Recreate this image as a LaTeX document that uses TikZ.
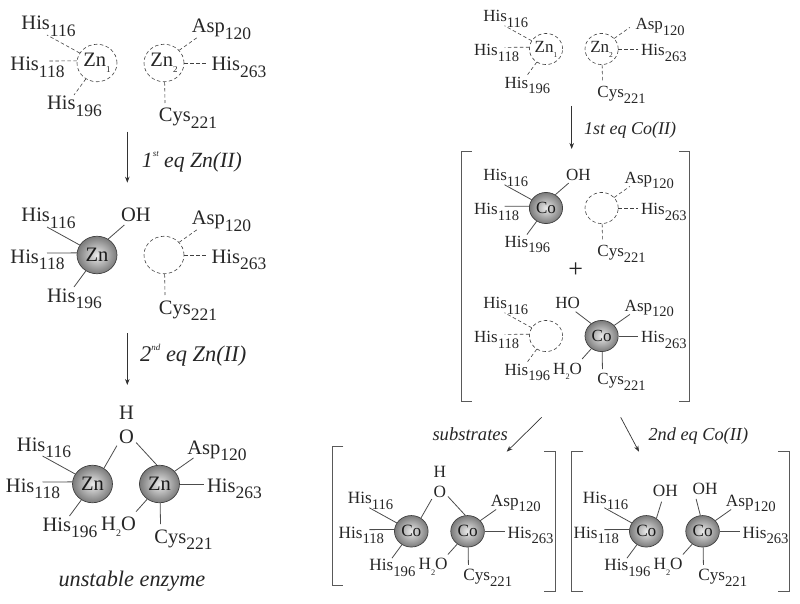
\documentclass[tikz,border=0pt]{standalone}
\usepackage{fontspec}
\setmainfont{Liberation Serif}
\usetikzlibrary{shapes.geometric,arrows.meta}
\newcommand{\res}[2]{#1\raisebox{-.33em}{\fontsize{17.5}{17.5}\selectfont #2}}
\newcommand{\water}{H\raisebox{-.3em}{\fontsize{10}{10}\selectfont 2}O}
\newcommand{\zn}[1]{Zn\raisebox{-.3em}{\fontsize{9}{9}\selectfont #1}}
\tikzset{
  lig/.style={
    anchor = base,
    inner sep = 0pt,
    text = black!85,
    font = \fontsize{20.5}{20.5}\selectfont
  },
  atom/.style={
    inner sep = 2pt,
    text = black!85,
    font = \fontsize{20.5}{20.5}\selectfont
  },
  metal/.style={
    shape = ellipse,
    minimum width = 40pt,
    minimum height = 37.5pt,
    inner sep = 0pt,
    draw = black!75,
    line width = .7pt,
    inner color = black!8,
    outer color = black!52,
    text = black!90,
    font = \fontsize{20.5}{20.5}\selectfont
  },
  hole/.style={
    shape = ellipse,
    minimum width = 40pt,
    minimum height = 37.5pt,
    inner sep = 0pt,
    draw = black!75,
    line width = .6pt,
    dash pattern = on 3.5pt off 2.5pt,
    text = black!85,
    font = \fontsize{20.5}{20.5}\selectfont
  },
  bond/.style={
    line width = .8pt,
    draw = black!70
  },
  weak/.style={
    line width = .6pt,
    draw = black!75,
    dash pattern = on 3.5pt off 2.5pt
  },
  react/.style={
    -{Stealth[length=6pt,width=4.5pt]},
    line width = .7pt,
    draw = black!80
  },
  brk/.style={
    line width = .9pt,
    draw = black!65
  },
  eq/.style={
    anchor = base west,
    inner sep = 0pt,
    text = black!85
  },
  block/.style={
    scale = #1,
    every node/.append style = {transform shape}
  }
}
\def\aspx{124.5}
\def\aspy{-30}
% three His around m1
\newcommand{\siteL}[1]{
  \node[lig] (h116) at (-48.5,-33) {\res{His}{116}};
  \node[lig] (h118) at (-59.5,8) {\res{His}{118}};
  \node[lig] (h196) at (-22.5,47) {\res{His}{196}};
  \coordinate (e116) at (-50,-28);
  \coordinate (e118) at (-50,-2);
  \coordinate (e196) at (-23,32);
  \draw[#1] (m1.150) -- (e116);
  \draw[#1] (m1.174) -- (e118);
  \draw[#1] (m1.235) -- (e196);
}
% Asp, His, Cys around m2
\newcommand{\siteR}[1]{
  \node[lig] (a120) at (\aspx,\aspy) {\res{Asp}{120}};
  \node[lig] (h263) at (142,8) {\res{His}{263}};
  \node[lig] (c221) at (91,59) {\res{Cys}{221}};
  \coordinate (e120) at (101,-26);
  \coordinate (e263) at (111,0);
  \coordinate (e221) at (68,40);
  \draw[#1] (m2.40) -- (e120);
  \draw[#1] (m2.0) -- (e263);
  \draw[#1] (m2.272) -- (e221);
}
\newcommand{\waterR}{
  \node[lig] (w) at (26,46) {\water};
  \coordinate (ew) at (43.5,27.7);
  \draw[bond] (m2.231) -- (ew);
}
\newcommand{\bridge}{
  \node[atom] (o) at (34,-47) {O};
  \node[atom] (oh) at (34,-71) {H};
  \draw[bond] (m1.54) -- (o.222);
  \draw[bond] (m2.98) -- (o.-30);
}
\newcommand{\hydL}{
  \node[lig] (oh1) at (39,-33.5) {OH};
  \coordinate (eo1) at (27.3,-30);
  \draw[bond] (m1.55) -- (eo1);
}
\begin{document}
\begin{tikzpicture}[x=1pt,y=-1pt]
  \useasboundingbox (0,0) rectangle (800,604);

  % zinc, left column
  \begin{scope}[shift={(97,63)},block=1,name prefix=za-]
    \node[hole] (m1) at (0,0) {\zn{1}};
    \node[hole] (m2) at (67,0) {\zn{2}};
    \siteL{weak}
    \siteR{weak}
  \end{scope}
  \begin{scope}[shift={(97,255)},block=1,name prefix=zb-]
    \node[metal] (m1) at (0,0) {Zn};
    \node[hole] (m2) at (67,0) {};
    \siteL{bond}
    \siteR{weak}
    \hydL
  \end{scope}
  \begin{scope}[shift={(92.5,484)},block=1,name prefix=zc-]
    \node[metal] (m1) at (0,0) {Zn};
    \node[metal] (m2) at (67,0) {Zn};
    \siteL{bond}
    \siteR{bond}
    \bridge
    \waterR
  \end{scope}

  % cobalt, right column
  \begin{scope}[shift={(546,49)},block=.83,name prefix=ca-]
    \def\aspx{137.5}
    \def\aspy{-23}
    \node[hole] (m1) at (0,0) {\zn{1}};
    \node[hole] (m2) at (67,0) {\zn{2}};
    \siteL{weak}
    \siteR{weak}
  \end{scope}
  \begin{scope}[shift={(546,208)},block=.83,name prefix=cb-]
    \node[metal] (m1) at (0,0) {Co};
    \node[hole] (m2) at (67,0) {};
    \siteL{bond}
    \siteR{weak}
    \hydL
  \end{scope}
  \begin{scope}[shift={(546,336)},block=.83,name prefix=cc-]
    \node[hole] (m1) at (0,0) {};
    \node[metal] (m2) at (67,0) {Co};
    \siteL{weak}
    \siteR{bond}
    \waterR
    \node[lig] (oh2) at (26,-33.3) {HO};
    \coordinate (eo2) at (35.7,-29.3);
    \draw[bond] (m2.130) -- (eo2);
  \end{scope}
  \begin{scope}[shift={(411.3,531.3)},block=.84,name prefix=cd-]
    \node[metal] (m1) at (0,0) {Co};
    \node[metal] (m2) at (67,0) {Co};
    \siteL{bond}
    \siteR{bond}
    \bridge
    \waterR
  \end{scope}
  \begin{scope}[shift={(646.3,531.3)},block=.84,name prefix=ce-]
    \node[metal] (m1) at (0,0) {Co};
    \node[metal] (m2) at (67,0) {Co};
    \siteL{bond}
    \siteR{bond}
    \waterR
    \node[lig] (oh1) at (22.6,-41.3) {OH};
    \node[lig] (oh2) at (70,-44) {OH};
    \coordinate (eo1) at (18.2,-35.3);
    \coordinate (eo2) at (59.3,-38.5);
    \draw[bond] (m1.52) -- (eo1);
    \draw[bond] (m2.98) -- (eo2);
  \end{scope}

  \node[atom, font=\fontsize{26}{26}\selectfont] (plus) at (575.7,270) {+};

  % brackets
  \draw[brk] (471.7,151.7) -- (461,151.7) -- (461,401.7) -- (471.7,401.7);
  \draw[brk] (679.3,151.7) -- (689.3,151.7) -- (689.3,401.7) -- (679.3,401.7);
  \draw[brk] (343.3,446) -- (332.3,446) -- (332.3,585.7) -- (343.3,585.7);
  \draw[brk] (544.3,451.7) -- (555,451.7) -- (555,591) -- (544.3,591);
  \draw[brk] (583.3,451.7) -- (571.7,451.7) -- (571.7,591.7) -- (583.3,591.7);
  \draw[brk] (778.3,451.7) -- (789.3,451.7) -- (789.3,591.7) -- (778.3,591.7);

  % arrows
  \coordinate (r1a) at (127.3,131.7);
  \coordinate (r1b) at (127.3,182.7);
  \coordinate (r2a) at (127.3,333.3);
  \coordinate (r2b) at (127.3,385);
  \coordinate (r3a) at (571.7,106);
  \coordinate (r3b) at (571.7,149);
  \coordinate (r4a) at (541.7,417.3);
  \coordinate (r4b) at (506.7,451.7);
  \coordinate (r5a) at (620.7,417.3);
  \coordinate (r5b) at (639,451.7);
  \draw[react] (r1a) -- (r1b);
  \draw[react] (r2a) -- (r2b);
  \draw[react] (r3a) -- (r3b);
  \draw[react] (r4a) -- (r4b);
  \draw[react] (r5a) -- (r5b);

  \node[eq, font=\fontsize{21.7}{21.7}\selectfont\itshape] (l1) at (141.7,167.7) {1\raisebox{.5em}{\fontsize{9}{9}\selectfont st} eq Zn(II)};
  \node[eq, font=\fontsize{22.4}{22.4}\selectfont\itshape] (l2) at (140,361.7) {2\raisebox{.5em}{\fontsize{9}{9}\selectfont nd} eq Zn(II)};
  \node[eq, font=\fontsize{18}{18}\selectfont\itshape] (l3) at (584,134.3) {1st eq Co(II)};
  \node[eq, font=\fontsize{18.6}{18.6}\selectfont\itshape] (l4) at (432.3,440.7) {substrates};
  \node[eq, font=\fontsize{18.3}{18.3}\selectfont\itshape] (l5) at (648.3,440.7) {2nd eq Co(II)};
  \node[eq, font=\fontsize{22.3}{22.3}\selectfont\itshape] (l6) at (58.3,586.7) {unstable enzyme};
\end{tikzpicture}
\end{document}
